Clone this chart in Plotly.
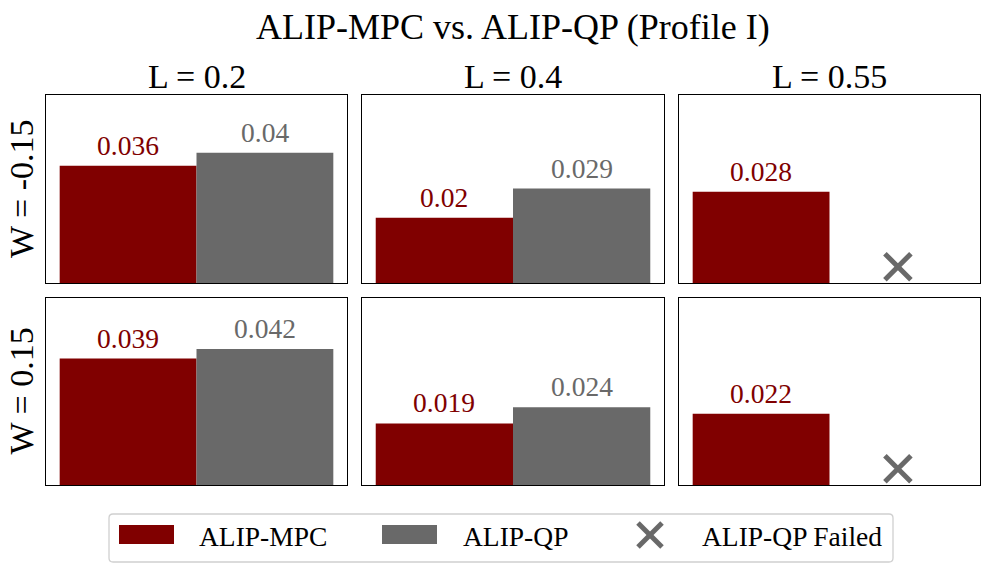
import plotly.graph_objects as go

# ---- data ----
L_values = ["0.2", "0.4", "0.55"]
W_values = ["-0.15", "0.15"]
mpc_vals = [[0.036, 0.020, 0.028],
            [0.039, 0.019, 0.022]]
qp_vals = [[0.040, 0.029, None],
           [0.042, 0.024, None]]
series_names = ["ALIP-MPC", "ALIP-QP", "ALIP-QP Failed"]
title_text = "ALIP-MPC vs. ALIP-QP (Profile I)"

# ---- style ----
W_PX, H_PX = 989, 572
MPC_COLOR = "#800000"
QP_COLOR = "#696969"
FONT = "Liberation Serif, Times New Roman, serif"
Y_MAX = 0.0577
FAIL_Y = 0.005
BAR_W = 0.4
X_POS = [-0.2, 0.2]

col_px = [(46, 347), (362, 664), (679, 980)]
row_px = [(95, 283), (298, 485)]


def px_x(p):
    return p / W_PX


def px_y(p):
    return 1 - p / H_PX


fig = go.Figure()
annotations = []
layout_axes = {}

for r in range(2):
    for c in range(3):
        idx = r * 3 + c + 1
        xa = "x" if idx == 1 else f"x{idx}"
        ya = "y" if idx == 1 else f"y{idx}"
        m = mpc_vals[r][c]
        q = qp_vals[r][c]
        fig.add_trace(go.Bar(x=[X_POS[0]], y=[m], width=BAR_W, marker_color=MPC_COLOR,
                             marker_line_width=0, xaxis=xa, yaxis=ya, showlegend=False,
                             hoverinfo="skip"))
        annotations.append(dict(x=X_POS[0], y=m, xref=xa, yref=ya, text=str(m),
                                showarrow=False, yanchor="bottom", yshift=3,
                                font=dict(family=FONT, size=27.5, color=MPC_COLOR)))
        if q is not None:
            fig.add_trace(go.Bar(x=[X_POS[1]], y=[q], width=BAR_W, marker_color=QP_COLOR,
                                 marker_line_width=0, xaxis=xa, yaxis=ya, showlegend=False,
                                 hoverinfo="skip"))
            annotations.append(dict(x=X_POS[1], y=q, xref=xa, yref=ya, text=str(q),
                                    showarrow=False, yanchor="bottom", yshift=3,
                                    font=dict(family=FONT, size=27.5, color=QP_COLOR)))
        else:
            fig.add_trace(go.Scatter(x=[X_POS[1]], y=[FAIL_Y], mode="markers",
                                     marker=dict(symbol="x-thin", size=26, color=QP_COLOR,
                                                 line=dict(width=5, color=QP_COLOR)),
                                     xaxis=xa, yaxis=ya, showlegend=False, hoverinfo="skip",
                                     cliponaxis=False))
        x0, x1 = col_px[c]
        y0, y1 = row_px[r]
        common = dict(showline=True, mirror=True, linecolor="black", linewidth=1.3,
                      showticklabels=False, ticks="", showgrid=False, zeroline=False,
                      fixedrange=True)
        layout_axes[("xaxis" if idx == 1 else f"xaxis{idx}")] = dict(
            domain=[px_x(x0), px_x(x1)], range=[-0.44, 0.44], anchor=ya, **common)
        layout_axes[("yaxis" if idx == 1 else f"yaxis{idx}")] = dict(
            domain=[px_y(y1), px_y(y0)], range=[0, Y_MAX], anchor=xa, **common)

# column titles
for c, L in enumerate(L_values):
    x0, x1 = col_px[c]
    annotations.append(dict(x=px_x((x0 + x1) / 2), y=px_y(76), xref="paper", yref="paper",
                            text=f"L = {L}", showarrow=False, xanchor="center", yanchor="middle",
                            font=dict(family=FONT, size=34, color="black")))
# row titles
for r, W in enumerate(W_values):
    y0, y1 = row_px[r]
    annotations.append(dict(x=px_x(21), y=px_y((y0 + y1) / 2), xref="paper", yref="paper",
                            text=f"W = {W}", showarrow=False, textangle=-90,
                            xanchor="center", yanchor="middle",
                            font=dict(family=FONT, size=34, color="black")))
# main title
annotations.append(dict(x=0.5 * (px_x(46) + px_x(980)), y=px_y(27), xref="paper", yref="paper",
                        text=title_text, showarrow=False, xanchor="center", yanchor="middle",
                        font=dict(family=FONT, size=36, color="black")))

# ---- manual legend ----
shapes = []
lx0, lx1, ly0, ly1, rad = 109, 893, 514, 562, 4
path = (f"M {px_x(lx0 + rad)},{px_y(ly0)} L {px_x(lx1 - rad)},{px_y(ly0)} "
        f"Q {px_x(lx1)},{px_y(ly0)} {px_x(lx1)},{px_y(ly0 + rad)} "
        f"L {px_x(lx1)},{px_y(ly1 - rad)} Q {px_x(lx1)},{px_y(ly1)} {px_x(lx1 - rad)},{px_y(ly1)} "
        f"L {px_x(lx0 + rad)},{px_y(ly1)} Q {px_x(lx0)},{px_y(ly1)} {px_x(lx0)},{px_y(ly1 - rad)} "
        f"L {px_x(lx0)},{px_y(ly0 + rad)} Q {px_x(lx0)},{px_y(ly0)} {px_x(lx0 + rad)},{px_y(ly0)} Z")
shapes.append(dict(type="path", xref="paper", yref="paper", path=path,
                   line=dict(color="#d0d0d0", width=1.3), fillcolor="rgba(0,0,0,0)"))
for (px0, col) in [(119, MPC_COLOR), (382, QP_COLOR)]:
    shapes.append(dict(type="rect", xref="paper", yref="paper",
                       x0=px_x(px0), x1=px_x(px0 + 55), y0=px_y(544), y1=px_y(525),
                       fillcolor=col, line=dict(width=0)))
# legend "x" glyph drawn with two thick strokes
cx, cy, h = 650, 535, 12
for (ax0, ay0, ax1, ay1) in [(cx - h, cy - h, cx + h, cy + h), (cx - h, cy + h, cx + h, cy - h)]:
    shapes.append(dict(type="line", xref="paper", yref="paper",
                       x0=px_x(ax0), y0=px_y(ay0), x1=px_x(ax1), y1=px_y(ay1),
                       line=dict(color=QP_COLOR, width=5)))
for tx, name in zip([197, 461, 700], series_names):
    annotations.append(dict(x=px_x(tx), y=px_y(536), xref="paper", yref="paper", text=name,
                            showarrow=False, xanchor="left", yanchor="middle",
                            font=dict(family=FONT, size=27.5, color="black")))

fig.update_layout(width=W_PX, height=H_PX, margin=dict(l=0, r=0, t=0, b=0),
                  plot_bgcolor="white", paper_bgcolor="white", barmode="overlay",
                  showlegend=False, annotations=annotations, shapes=shapes, **layout_axes)

fig.write_html("out.html", config={"displayModeBar": False},
               post_script="document.body.style.margin='0';document.body.style.overflow='hidden';")
